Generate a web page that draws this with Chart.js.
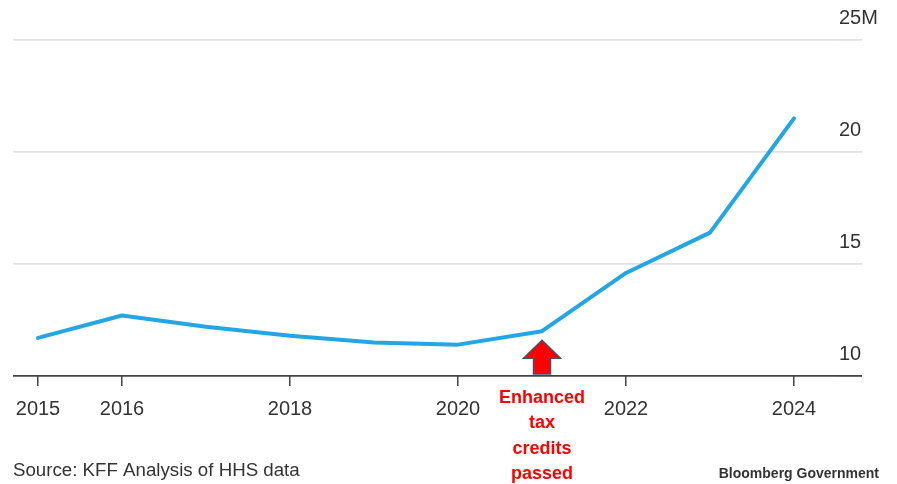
<!DOCTYPE html>
<html>
<head>
<meta charset="utf-8">
<script src="https://cdn.jsdelivr.net/npm/chart.js@4"></script>
<style>
  html, body { margin: 0; padding: 0; background: #fff; }
  #wrap { width: 897px; height: 484px; position: relative; }
</style>
</head>
<body>
<div id="wrap"><canvas id="c" width="897" height="484"></canvas></div>
<script>
const years = [2015, 2016, 2017, 2018, 2019, 2020, 2021, 2022, 2023, 2024];
const enrollment = [11.7, 12.7, 12.2, 11.8, 11.5, 11.4, 12.0, 14.6, 16.4, 21.5];
const xTickYears = [2015, 2016, 2018, 2020, 2022, 2024];
const yTicks = [10, 15, 20, 25];
const annotationYear = 2021;
const annotationLines = ["Enhanced", "tax", "credits", "passed"];
const sourceText = "Source: KFF Analysis of HHS data";
const brandText = "Bloomberg Government";

const FONT = "'Liberation Sans', Arial, Helvetica, sans-serif";

const annotationPlugin = {
  id: 'annot',
  afterDraw(chart) {
    const ctx = chart.ctx;
    const xs = chart.scales.x, ys = chart.scales.y;
    const ca = chart.chartArea;
    const idx = years.indexOf(annotationYear);
    const cx = xs.getPixelForValue(annotationYear);
    const tip = ys.getPixelForValue(enrollment[idx]) + 9;
    const headBase = tip + 18;
    const bottom = ca.bottom - 2;
    ctx.save();
    ctx.beginPath();
    ctx.moveTo(cx, tip);
    ctx.lineTo(cx + 18.5, headBase);
    ctx.lineTo(cx + 8.5, headBase);
    ctx.lineTo(cx + 8.5, bottom);
    ctx.lineTo(cx - 8.5, bottom);
    ctx.lineTo(cx - 8.5, headBase);
    ctx.lineTo(cx - 18.5, headBase);
    ctx.closePath();
    ctx.fillStyle = '#ff0000';
    ctx.fill();
    ctx.lineWidth = 1.5;
    ctx.strokeStyle = '#44546a';
    ctx.lineJoin = 'miter';
    ctx.stroke();

    ctx.fillStyle = '#ff0000';
    ctx.font = "bold 18px " + FONT;
    ctx.textAlign = 'center';
    ctx.textBaseline = 'middle';
    annotationLines.forEach((t, i) => {
      ctx.fillText(t, cx, 398 + i * 25.3);
    });

    ctx.fillStyle = '#333333';
    ctx.textBaseline = 'alphabetic';
    ctx.textAlign = 'left';
    ctx.font = "18.7px " + FONT;
    ctx.fillText(sourceText, 13, 476);
    ctx.textAlign = 'right';
    ctx.font = "bold 14px " + FONT;
    ctx.fillText(brandText, 879, 478);
    ctx.restore();
  }
};

new Chart(document.getElementById('c'), {
  type: 'line',
  data: {
    datasets: [{
      data: years.map((y, i) => ({ x: y, y: enrollment[i] })),
      borderColor: '#22a6e6',
      borderWidth: 4,
      pointRadius: 0,
      tension: 0,
      borderCapStyle: 'round',
      borderJoinStyle: 'round',
      fill: false
    }]
  },
  options: {
    responsive: false,
    animation: false,
    layout: { padding: { top: 40, left: 13, right: 0, bottom: 0 } },
    plugins: { legend: { display: false }, tooltip: { enabled: false } },
    scales: {
      x: {
        type: 'linear',
        min: 2015 - 25 / 84,
        max: 2024 + 45 / 84,
        afterBuildTicks(scale) { scale.ticks = xTickYears.map(v => ({ value: v })); },
        afterFit(scale) { scale.height = 108; },
        grid: { drawOnChartArea: false, drawTicks: true, tickLength: 10, color: '#444', lineWidth: 1.5 },
        border: { display: false },
        ticks: {
          autoSkip: false,
          maxRotation: 0,
          padding: 11,
          color: '#333',
          font: { family: FONT, size: 20 },
          callback: v => String(v)
        }
      },
      y: {
        position: 'right',
        min: 10,
        max: 25,
        afterBuildTicks(scale) { scale.ticks = yTicks.map(v => ({ value: v })); },
        afterFit(scale) { scale.width = 58; },
        grid: {
          drawTicks: true,
          tickLength: 23,
          color: ctx => (ctx.tick && ctx.tick.value === 10) ? '#444' : '#e2e2e2',
          lineWidth: 1.8
        },
        border: { display: false },
        ticks: {
          padding: -23,
          labelOffset: -22,
          color: '#333',
          font: { family: FONT, size: 20 },
          callback: v => v === 25 ? '25M' : String(v)
        }
      }
    }
  },
  plugins: [annotationPlugin]
});
</script>
</body>
</html>
